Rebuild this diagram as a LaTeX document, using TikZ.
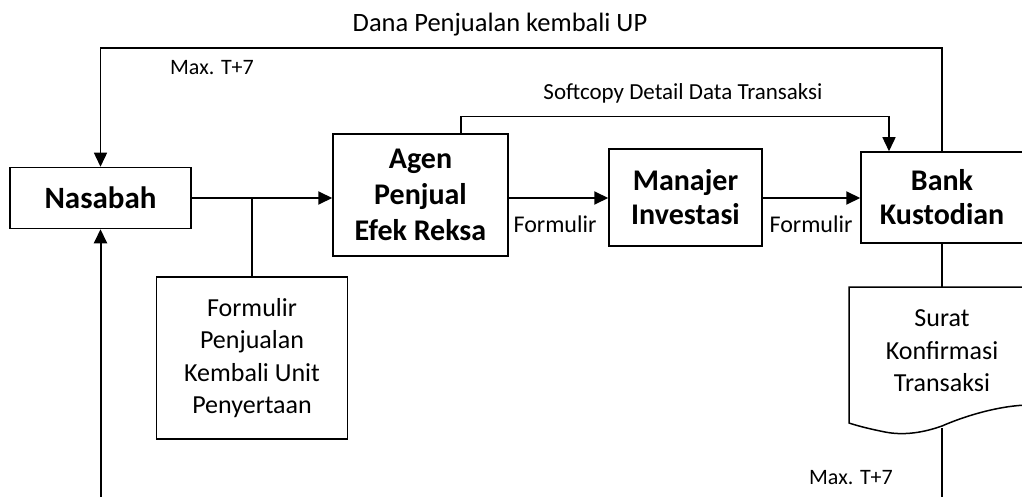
\documentclass[tikz,border=0pt]{standalone}
\usepackage{fontspec}
\setmainfont{Carlito}
\usetikzlibrary{arrows.meta}

\begin{document}
\begin{tikzpicture}[x=1pt, y=-1pt,
    box/.style={draw, line width=1.5pt, align=center, inner sep=0pt, font=\fontsize{30}{36}\selectfont\bfseries},
    plainbox/.style={draw, line width=1.5pt, align=center, inner sep=0pt, font=\fontsize{26}{32.5}\selectfont},
    flow/.style={line width=2pt, -{Triangle[length=14pt, width=13pt]}},
    link/.style={line width=1.4pt},
    tip/.style={-{Triangle[length=14pt, width=13pt]}},
    lbl/.style={inner sep=0pt, font=\fontsize{24}{28}\selectfont},
    small/.style={inner sep=0pt, font=\fontsize{22}{27}\selectfont}]
    \useasboundingbox (0,0) rectangle (1022,497);
    \clip (0,0) rectangle (1022,497);

    % Main boxes
    \node[box, font=\fontsize{31}{36}\selectfont\bfseries, minimum width=181pt, minimum height=61pt] (nasabah) at (100.5,198) {Nasabah};
    \node[box, minimum width=175pt, minimum height=122pt] (agen) at (420.5,195) {Agen\\Penjual\\Efek Reksa};
    \node[box, font=\fontsize{30}{34}\selectfont\bfseries, minimum width=153pt, minimum height=97pt] (manajer) at (685.5,197.5) {Manajer\\Investasi};
    \node[box, font=\fontsize{30}{34}\selectfont\bfseries, minimum width=162pt, minimum height=91pt] (bank) at (942,197.5) {Bank\\Kustodian};
    \node[plainbox, minimum width=191pt, minimum height=162pt] (formulir) at (252,358) {Formulir\\Penjualan\\Kembali Unit\\Penyertaan};

    % Document shape
    \draw[line width=1.5pt] (849,287) -- (1035,287) -- (1035,405)
        .. controls (1000,404) and (960,418) .. (942,426)
        .. controls (925,432) and (905,436) .. (885,432)
        .. controls (870,429) and (858,426) .. (849,423) -- cycle;
    \node[plainbox, draw=none] (surat) at (942,351) {Surat\\Konfirmasi\\Transaksi};
    \coordinate (docTop) at (942,287);
    \coordinate (docBottom) at (942,428);

    % Flow of the form
    \draw[flow] (nasabah.east) -- (nasabah.east -| agen.west);
    \draw[flow] (agen.east |- nasabah.east) -- (nasabah.east -| manajer.west);
    \draw[flow] (manajer.east |- nasabah.east) -- (nasabah.east -| bank.west);
    \draw[link] (formulir.north) -- (formulir.north |- nasabah.east);

    % Return loops
    \coordinate (loopTop) at (100.5,48);
    \coordinate (loopBottom) at (100.5,530);
    \draw[link, tip] (bank.north) |- (loopTop) -- (nasabah.north);
    \draw[link, tip] ([xshift=40.5pt]agen.north) -- ++(0,-17) -| ([xshift=-53pt]bank.north);
    \draw[link] (bank.south) -- (docTop);
    \draw[flow] (docBottom) |- (loopBottom) -- (nasabah.south);

    % Labels
    \node[lbl, font=\fontsize{26.5}{30}\selectfont] (danaLabel) at (500,25) {Dana Penjualan kembali UP};
    \node[small] (maxTop) at (212,68) {Max. T+7};
    \node[small, font=\fontsize{23}{27}\selectfont] (softLabel) at (683,93) {Softcopy Detail Data Transaksi};
    \node[lbl] (formLeft) at (555,224) {Formulir};
    \node[lbl] (formRight) at (811,224) {Formulir};
    \node[small] (maxBottom) at (851,478) {Max. T+7};
\end{tikzpicture}
\end{document}
